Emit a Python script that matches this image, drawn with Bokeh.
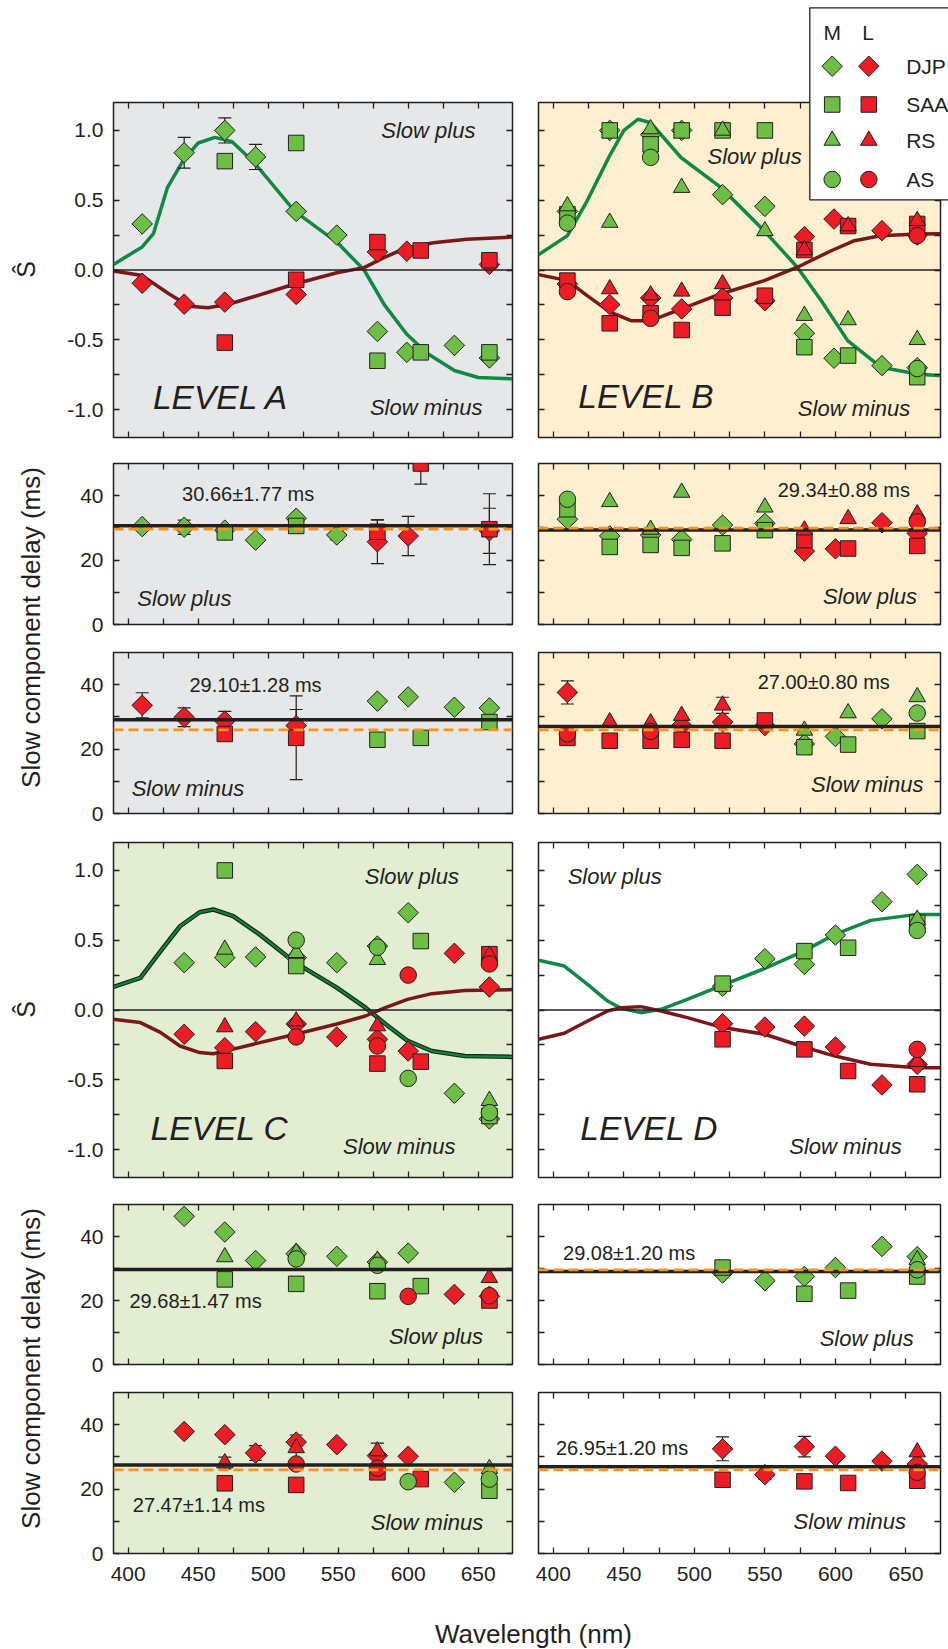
import numpy as np
from bokeh.plotting import figure
from bokeh.models import Range1d, FixedTicker, LinearAxis, Label, GridBox, Span, PrintfTickFormatter
from bokeh.embed import file_html
from bokeh.resources import INLINE

# ---------------------------------------------------------------- data
OBSERVERS = ["DJP", "SAA", "RS", "AS"]
CONES = ["M", "L"]
X_TICKS = [400, 450, 500, 550, 600, 650]

# S-hat panels: (wavelength nm, S-hat, optional error)
A_SHAT = {
    "DJP_M": [(410, 0.33), (440, 0.84, 0.11), (469, 1.0, 0.09), (491, 0.81, 0.09), (520, 0.42),
              (549, 0.25), (578, -0.44), (599, -0.59), (633, -0.54), (658, -0.63)],
    "SAA_M": [(469, 0.78), (520, 0.91), (578, -0.65), (609, -0.59), (658, -0.59)],
    "DJP_L": [(410, -0.095), (440, -0.245), (469, -0.23), (520, -0.175), (578, 0.13), (599, 0.135), (658, 0.04)],
    "SAA_L": [(469, -0.52), (520, -0.07), (578, 0.20), (609, 0.14), (658, 0.07)],
}
B_SHAT = {
    "DJP_M": [(410, 0.42), (440, 1.0), (469, 0.97), (491, 1.0), (520, 0.54), (550, 0.456), (578, -0.453),
              (599, -0.632), (633, -0.685), (658, -0.70)],
    "SAA_M": [(410, 0.40), (440, 1.0), (469, 0.90), (491, 1.0), (520, 1.0), (550, 1.0), (578, -0.553),
              (609, -0.613), (658, -0.768)],
    "RS_M": [(410, 0.458), (440, 0.34), (469, 1.01), (491, 0.59), (520, 1.0), (550, 0.28), (578, -0.327),
             (609, -0.358), (658, -0.50)],
    "AS_M": [(410, 0.336), (469, 0.807), (658, -0.706)],
    "DJP_L": [(410, -0.10), (440, -0.248), (469, -0.20), (491, -0.279), (520, -0.20), (550, -0.22),
              (578, 0.239), (599, 0.365), (633, 0.282), (658, 0.25)],
    "SAA_L": [(410, -0.076), (440, -0.382), (469, -0.31), (491, -0.43), (520, -0.27), (550, -0.184),
              (578, 0.143), (609, 0.315), (658, 0.33)],
    "RS_L": [(440, -0.136), (469, -0.18), (491, -0.153), (520, -0.10), (578, 0.143), (609, 0.315), (658, 0.353)],
    "AS_L": [(410, -0.155), (469, -0.346), (658, 0.246)],
}
C_SHAT = {
    "DJP_M": [(440, 0.339), (469, 0.375), (491, 0.38), (520, 0.375), (549, 0.339), (578, 0.458), (600, 0.697),
              (633, -0.597), (658, -0.78)],
    "SAA_M": [(469, 1.0), (520, 0.315), (609, 0.494), (658, -0.76)],
    "RS_M": [(469, 0.434), (520, 0.41), (578, 0.36), (658, -0.65)],
    "AS_M": [(520, 0.50), (578, 0.45), (600, -0.49), (658, -0.735)],
    "DJP_L": [(440, -0.174), (469, -0.27), (491, -0.155), (520, -0.10), (549, -0.193), (578, -0.21),
              (600, -0.294), (633, 0.406), (658, 0.165)],
    "SAA_L": [(469, -0.365), (578, -0.384), (609, -0.37), (658, 0.40)],
    "RS_L": [(469, -0.122), (520, -0.08), (578, -0.115), (658, 0.39)],
    "AS_L": [(520, -0.193), (578, -0.258), (600, 0.25), (658, 0.33)],
}
D_SHAT = {
    "DJP_M": [(520, 0.17), (550, 0.368), (578, 0.327), (600, 0.537), (633, 0.776), (658, 0.971)],
    "SAA_M": [(520, 0.189), (578, 0.422), (609, 0.446), (658, 0.625)],
    "RS_M": [(658, 0.649)],
    "AS_M": [(658, 0.57)],
    "DJP_L": [(520, -0.098), (550, -0.122), (578, -0.115), (600, -0.265), (633, -0.537), (658, -0.389)],
    "SAA_L": [(520, -0.21), (578, -0.282), (609, -0.437), (658, -0.532)],
    "RS_L": [(658, -0.37)],
    "AS_L": [(658, -0.282)],
}

# model curves (wavelength, S-hat)
A_CURVE_M_WL = [389.5, 410, 418, 428, 439, 450, 462, 474, 490, 519, 549, 568.5, 583, 599, 614, 633, 650, 674.5]
A_CURVE_M = [0.04, 0.165, 0.26, 0.59, 0.78, 0.91, 0.95, 0.92, 0.77, 0.42, 0.2, 0.0, -0.25, -0.46, -0.6, -0.72, -0.77, -0.78]
A_CURVE_L_WL = [389.5, 410, 429, 443.6, 457, 471.6, 490, 519, 549, 568.5, 583, 599, 618, 642, 674.5]
A_CURVE_L = [-0.007, -0.04, -0.17, -0.26, -0.27, -0.245, -0.19, -0.1, -0.02, 0.017, 0.09, 0.16, 0.195, 0.22, 0.236]
B_CURVE_M_WL = [389.6, 410, 424, 440, 450, 460, 469, 490.5, 519, 549.6, 573, 590, 608.7, 632.4, 658, 674.5]
B_CURVE_M = [0.11, 0.246, 0.496, 0.82, 1.0, 1.08, 1.055, 0.806, 0.59, 0.28, 0.02, -0.22, -0.506, -0.697, -0.745, -0.757]
B_CURVE_L_WL = [389.6, 410, 424, 440, 455, 469, 490.5, 519, 549.6, 573, 597, 613.5, 632, 658, 674.5]
B_CURVE_L = [-0.033, -0.076, -0.184, -0.30, -0.363, -0.363, -0.28, -0.17, -0.076, 0.02, 0.138, 0.21, 0.246, 0.258, 0.26]
C_CURVE_WL = [389.4, 408.7, 423, 437, 451, 460.8, 475, 494, 519.4, 549, 569.5, 583.7, 599.5, 616.8, 640.4, 674.2]
C_CURVE_M = [0.165, 0.23, 0.42, 0.60, 0.70, 0.72, 0.673, 0.54, 0.339, 0.16, 0.017, -0.10, -0.22, -0.294, -0.33, -0.336]
C_CURVE_L = [-0.067, -0.09, -0.16, -0.258, -0.305, -0.313, -0.28, -0.234, -0.174, -0.10, -0.043, 0.017, 0.076, 0.117, 0.14, 0.146]
D_CURVE_WL = [389.6, 407.8, 424.3, 438.5, 448, 462, 476.4, 495, 520, 550, 577.5, 599.7, 625, 658, 674.5]
D_CURVE_M = [0.356, 0.315, 0.184, 0.064, 0.012, -0.019, 0.005, 0.076, 0.179, 0.298, 0.422, 0.542, 0.642, 0.685, 0.685]
D_CURVE_L = [-0.21, -0.167, -0.079, -0.007, 0.017, 0.024, -0.007, -0.055, -0.126, -0.174, -0.265, -0.33, -0.389, -0.413, -0.413]

# slow component delay panels (wavelength nm, delay ms, optional error)
A_PLUS = {
    "DJP_M": [(410, 30.4), (440, 30.2, 2.2), (469, 29.3), (491, 26.2), (520, 33.0), (549, 27.8, 1.5)],
    "SAA_M": [(469, 28.6), (520, 30.6)],
    "DJP_L": [(578, 25.7, 6.8), (600, 27.5, 6.1), (658, 29.1, 7.0)],
    "SAA_L": [(578, 28.8, 3.7), (609, 50.0, 6.4), (658, 29.6, 11.0)],
}
A_MINUS = {
    "DJP_L": [(410, 33.6, 3.9), (440, 29.9, 2.9), (469, 28.7, 3.0), (520, 27.3, 5.0)],
    "SAA_L": [(469, 24.7), (520, 23.5, 13.0)],
    "DJP_M": [(578, 34.9), (600, 36.2), (633, 33.0), (658, 32.8)],
    "SAA_M": [(578, 22.9), (609, 23.5), (658, 28.4)],
}
B_PLUS = {
    "DJP_M": [(410, 32.7), (440, 27.5), (469, 27.8), (491, 26.4), (520, 30.9), (550, 31.4)],
    "SAA_M": [(410, 35.8), (440, 24.1), (469, 24.7), (491, 23.8), (520, 25.2), (550, 29.3)],
    "RS_M": [(440, 38.1), (469, 29.5), (491, 41.0), (550, 36.4)],
    "AS_M": [(410, 38.9)],
    "DJP_L": [(578, 22.8), (600, 23.5), (633, 31.6), (658, 28.3)],
    "SAA_L": [(578, 26.2), (609, 23.6), (658, 24.4)],
    "RS_L": [(578, 29.3), (609, 32.8), (658, 34.3)],
    "AS_L": [(658, 31.9)],
}
B_MINUS = {
    "DJP_L": [(410, 37.6, 3.6), (491, 27.3), (520, 28.4), (550, 27.3)],
    "SAA_L": [(410, 23.5), (440, 22.6), (469, 22.6), (491, 22.9), (520, 22.6), (550, 28.9)],
    "RS_L": [(440, 28.4), (469, 28.1), (491, 30.4), (520, 33.6, 2.5)],
    "AS_L": [(410, 24.7), (469, 25.5)],
    "DJP_M": [(578, 21.6), (600, 23.9), (633, 29.4)],
    "SAA_M": [(578, 20.6), (609, 21.4), (658, 25.6)],
    "RS_M": [(578, 25.8), (609, 31.2), (658, 36.2)],
    "AS_M": [(658, 31.2)],
}
C_PLUS = {
    "DJP_M": [(440, 46.3), (469, 41.4), (491, 32.5), (520, 34.6), (549, 33.8), (578, 32.0), (600, 34.8)],
    "SAA_M": [(469, 26.6), (520, 25.2), (578, 22.9), (609, 24.5)],
    "RS_M": [(469, 33.6), (520, 35.0), (578, 32.5)],
    "AS_M": [(520, 33.0), (578, 31.0)],
    "DJP_L": [(633, 21.9), (658, 21.3)],
    "SAA_L": [(658, 20.0)],
    "RS_L": [(658, 27.1)],
    "AS_L": [(600, 21.3), (658, 21.5)],
}
C_MINUS = {
    "DJP_L": [(440, 37.9), (469, 36.9), (491, 31.2, 2.3), (520, 34.6), (549, 33.8), (578, 30.4), (600, 30.2)],
    "SAA_L": [(469, 21.8), (520, 21.3), (578, 25.2), (609, 23.1)],
    "RS_L": [(469, 28.1, 1.8), (520, 32.8, 4.0), (578, 31.8, 2.5)],
    "AS_L": [(520, 27.8), (578, 26.5)],
    "DJP_M": [(633, 22.1)],
    "SAA_M": [(658, 19.5)],
    "RS_M": [(658, 26.3)],
    "AS_M": [(600, 22.3), (658, 23.1)],
}
D_PLUS = {
    "DJP_M": [(520, 28.6), (550, 26.2), (578, 27.5), (600, 30.3), (633, 36.9), (658, 33.7)],
    "SAA_M": [(520, 30.3), (578, 22.1), (609, 23.1), (658, 27.5)],
    "RS_M": [(658, 32.7)],
    "AS_M": [(658, 29.6)],
}
D_MINUS = {
    "DJP_L": [(520, 32.5, 3.7), (550, 24.5, 1.5), (578, 33.2, 3.2), (600, 30.2), (633, 28.7), (658, 27.8)],
    "SAA_L": [(520, 22.9), (578, 22.4), (609, 21.9), (658, 22.6)],
    "RS_L": [(658, 31.5)],
    "AS_L": [(658, 25.2)],
}

# mean delay (black line), s.e.m. and reference value (orange dashed line)
A_PLUS_MEAN, A_PLUS_SEM, A_PLUS_REF = 30.66, 1.77, 29.6
A_MINUS_MEAN, A_MINUS_SEM, A_MINUS_REF = 29.10, 1.28, 26.0
B_PLUS_MEAN, B_PLUS_SEM, B_PLUS_REF = 29.34, 0.88, 29.9
B_MINUS_MEAN, B_MINUS_SEM, B_MINUS_REF = 27.00, 0.80, 26.0
C_PLUS_MEAN, C_PLUS_SEM, C_PLUS_REF = 29.68, 1.47, None
C_MINUS_MEAN, C_MINUS_SEM, C_MINUS_REF = 27.47, 1.14, 26.0
D_PLUS_MEAN, D_PLUS_SEM, D_PLUS_REF = 29.08, 1.20, 29.6
D_MINUS_MEAN, D_MINUS_SEM, D_MINUS_REF = 26.95, 1.20, 26.0

# ---------------------------------------------------------------- style
FONT = "Liberation Sans"
INK = "#231F20"
FILL = {"M": "#6DBE45", "L": "#ED1C24"}
CURVE_GREEN = "#0E8A44"
CURVE_RED = "#7A1719"
ORANGE = "#F7941D"
BG = {"A": "#E6E7E8", "B": "#FDEFD0", "C": "#E2EDD2", "D": "#FFFFFF"}
MARK = {"DJP": ("square", 14.5, np.pi / 4), "SAA": ("square", 15.5, 0.0),
        "RS": ("triangle", 16.5, 0.0), "AS": ("circle", 16.5, 0.0)}
XR = (389.5, 674.5)
ROW_GEOM = [(102, 335, 13), (13, 161, 14), (14, 161, 14), (15, 335, 13), (14, 160, 14), (14, 161, 96)]


def style_axis(ax, labeled, fmt, standoff):
    ax.axis_line_color = None
    ax.major_tick_in = 6
    ax.major_tick_out = 0
    ax.minor_tick_in = 6
    ax.minor_tick_out = 0
    ax.major_tick_line_color = INK
    ax.minor_tick_line_color = INK
    ax.major_tick_line_width = 1.3
    ax.minor_tick_line_width = 1.3
    ax.formatter = PrintfTickFormatter(format=fmt)
    if labeled:
        ax.major_label_text_font = FONT
        ax.major_label_text_font_size = "21px"
        ax.major_label_text_color = INK
        ax.major_label_standoff = standoff
    else:
        ax.major_label_text_font_size = "0px"
        ax.major_label_standoff = 0


def make_panel(row, col, kind, level, data, label_x):
    top, fh, bot = ROW_GEOM[row]
    if col == 0:
        left, fw, right = (111, 401, 13) if row < 3 else (113, 401, 11)
    else:
        left, fw, right = (13, 402, 8)
    yr = (-1.2, 1.2) if kind == "S" else (0, 50)
    p = figure(width=left + fw + right, height=top + fh + bot,
               x_range=Range1d(*XR), y_range=Range1d(*yr),
               min_border_left=left, min_border_right=right,
               min_border_top=top, min_border_bottom=bot,
               toolbar_location=None, output_backend="svg",
               x_axis_location=None, y_axis_location=None,
               background_fill_color=BG[level], border_fill_color="white",
               outline_line_color=INK, outline_line_width=1.5)
    p.xgrid.visible = False
    p.ygrid.visible = False
    if kind == "S":
        yt, ym, yfmt = [-1.0, -0.5, 0.0, 0.5, 1.0], [-0.75, -0.25, 0.25, 0.75], "%.1f"
    else:
        yt, ym, yfmt = [0, 20, 40], [10, 30], "%d"
    for loc in ("below", "above"):
        ax = LinearAxis(ticker=FixedTicker(ticks=X_TICKS, minor_ticks=[425, 475, 525, 575, 625]))
        style_axis(ax, loc == "below" and label_x, "%d", 13)
        p.add_layout(ax, loc)
    for loc in ("left", "right"):
        ax = LinearAxis(ticker=FixedTicker(ticks=yt, minor_ticks=ym))
        style_axis(ax, loc == "left" and col == 0, yfmt, 10)
        p.add_layout(ax, loc)
    return p


def draw_points(p, data):
    for o in OBSERVERS:
        for c in CONES:
            pts = [t for t in data.get(f"{o}_{c}", []) if len(t) > 2]
            if not pts:
                continue
            x = [t[0] for t in pts]
            lo = [t[1] - t[2] for t in pts]
            hi = [t[1] + t[2] for t in pts]
            p.segment(x0=x, y0=lo, x1=x, y1=hi, line_color=INK, line_width=1.2)
            p.scatter(x=x + x, y=lo + hi, marker="dash", size=13, line_color=INK, line_width=1.2)
    for o in OBSERVERS:
        for c in CONES:
            pts = data.get(f"{o}_{c}", [])
            if not pts:
                continue
            m, s, a = MARK[o]
            p.scatter(x=[t[0] for t in pts], y=[t[1] for t in pts], marker=m, size=s, angle=a,
                      fill_color=FILL[c], line_color=INK, line_width=1)


def text(p, x, y, s, align="left", size="22px", style="italic"):
    p.add_layout(Label(x=x, y=y, text=s, text_align=align, text_baseline="middle",
                       text_font=FONT, text_font_size=size, text_font_style=style, text_color=INK))


def s_panel(row, col, level, data, cm_wl, cm, cl_wl, cl, texts, outline_green=False):
    p = make_panel(row, col, "S", level, data, False)
    p.add_layout(Span(location=0, dimension="width", line_color=INK, line_width=1.6))
    if outline_green:
        p.line(cm_wl, cm, line_color="#0B2A18", line_width=4.5)
        p.line(cm_wl, cm, line_color="#17803F", line_width=2.2)
    else:
        p.line(cm_wl, cm, line_color=CURVE_GREEN, line_width=3.5)
    p.line(cl_wl, cl, line_color=CURVE_RED, line_width=3.5)
    draw_points(p, data)
    (px, py, pa), (mx, my, ma), (lx, ly) = texts
    text(p, px, py, "Slow plus", pa)
    text(p, mx, my, "Slow minus", ma)
    text(p, lx, ly, f"LEVEL {level}", "left", "33.5px")
    return p


def d_panel(row, col, level, data, mean, sem, ref, plus, label_x, vt, st):
    p = make_panel(row, col, "D", level, data, label_x)
    p.add_layout(Span(location=mean, dimension="width", line_color=INK, line_width=3.5))
    if ref is not None:
        p.add_layout(Span(location=ref, dimension="width", line_color=ORANGE, line_width=2.8,
                          line_dash="10 5"))
    draw_points(p, data)
    text(p, vt[0], vt[1], f"{mean:.2f}\u00b1{sem:.2f} ms", "left", "20px", "normal")
    text(p, st[0], st[1], "Slow plus" if plus else "Slow minus", st[2])
    return p


pA = s_panel(0, 0, "A", A_SHAT, A_CURVE_M_WL, A_CURVE_M, A_CURVE_L_WL, A_CURVE_L,
             ((648, 1.0, "right"), (653, -0.987, "right"), (417.7, -0.912)))
pB = s_panel(0, 1, "B", B_SHAT, B_CURVE_M_WL, B_CURVE_M, B_CURVE_L_WL, B_CURVE_L,
             ((576.1, 0.81, "right"), (653.1, -0.995, "right"), (417.7, -0.908)))
pC = s_panel(3, 0, "C", C_SHAT, C_CURVE_WL, C_CURVE_M, C_CURVE_WL, C_CURVE_L,
             ((636.2, 0.954, "right"), (633.8, -0.98, "right"), (416, -0.852)), outline_green=True)
pD = s_panel(3, 1, "D", D_SHAT, D_CURVE_WL, D_CURVE_M, D_CURVE_WL, D_CURVE_L,
             ((410.2, 0.954, "left"), (647, -0.98, "right"), (419.1, -0.852)))

pA1 = d_panel(1, 0, "A", A_PLUS, A_PLUS_MEAN, A_PLUS_SEM, A_PLUS_REF, True, False, (438.5, 40.6), (406.5, 8.2, "left"))
pA2 = d_panel(2, 0, "A", A_MINUS, A_MINUS_MEAN, A_MINUS_SEM, A_MINUS_REF, False, False, (443.7, 40.0), (402.5, 7.8, "left"))
pB1 = d_panel(1, 1, "B", B_PLUS, B_PLUS_MEAN, B_PLUS_SEM, B_PLUS_REF, True, False, (559.1, 41.8), (657.9, 8.8, "right"))
pB2 = d_panel(2, 1, "B", B_MINUS, B_MINUS_MEAN, B_MINUS_SEM, B_MINUS_REF, False, False, (544.9, 40.7), (662.4, 8.9, "right"))
pC1 = d_panel(4, 0, "C", C_PLUS, C_PLUS_MEAN, C_PLUS_SEM, C_PLUS_REF, True, False, (400.9, 19.8), (653.5, 8.9, "right"))
pC2 = d_panel(5, 0, "C", C_MINUS, C_MINUS_MEAN, C_MINUS_SEM, C_MINUS_REF, False, True, (403.3, 15.2), (653.6, 9.6, "right"))
pD1 = d_panel(4, 1, "D", D_PLUS, D_PLUS_MEAN, D_PLUS_SEM, D_PLUS_REF, True, False, (406.9, 34.7), (655.6, 8.0, "right"))
pD2 = d_panel(5, 1, "D", D_MINUS, D_MINUS_MEAN, D_MINUS_SEM, D_MINUS_REF, False, True, (401.9, 32.8), (650.1, 9.8, "right"))

panels = GridBox(children=[(pA, 0, 0), (pB, 0, 1), (pA1, 1, 0), (pB1, 1, 1), (pA2, 2, 0), (pB2, 2, 1),
                           (pC, 3, 0), (pD, 3, 1), (pC1, 4, 0), (pD1, 4, 1), (pC2, 5, 0), (pD2, 5, 1)],
                 spacing=0)

# ---------------------------------------------------------------- overlay: shared labels + legend
ov = figure(width=948, height=1649, x_range=Range1d(0, 948), y_range=Range1d(1649, 0),
            min_border=0, toolbar_location=None, output_backend="svg",
            x_axis_location=None, y_axis_location=None,
            background_fill_color=None, border_fill_color=None, outline_line_color=None)
ov.xgrid.visible = False
ov.ygrid.visible = False


def otext(x, y, s, size, align="center", angle=0.0):
    ov.add_layout(Label(x=x, y=y, text=s, text_align=align, text_baseline="middle", angle=angle,
                        text_font=FONT, text_font_size=size, text_color=INK))


otext(25, 269, "\u015c", "25px", angle=np.pi / 2)
otext(25, 1009, "\u015c", "25px", angle=np.pi / 2)
otext(30, 627, "Slow component delay (ms)", "26px", angle=np.pi / 2)
otext(30, 1368, "Slow component delay (ms)", "26px", angle=np.pi / 2)
otext(533, 1633, "Wavelength (nm)", "26px")

# legend
ov.quad(left=809.3, right=1000, top=7.3, bottom=199.3, fill_color="white", line_color=INK, line_width=1.3)
otext(831.7, 31.7, "M", "21px")
otext(867.7, 31.7, "L", "21px")
LEG_Y = [65.7, 104, 140, 179]
for o, yy in zip(OBSERVERS, LEG_Y):
    m, s, a = MARK[o]
    ov.scatter(x=[831.7], y=[yy], marker=m, size=s, angle=a, fill_color=FILL["M"], line_color=INK, line_width=1)
    ov.scatter(x=[868.3], y=[yy], marker=m, size=s, angle=a, fill_color=FILL["L"], line_color=INK, line_width=1)
    otext(905.7, yy, o, "21px", align="left")

root = GridBox(children=[(panels, 0, 0), (ov, 0, 0)], spacing=0)

open("out.html", "w").write(file_html(root, INLINE, title="Slow component"))
